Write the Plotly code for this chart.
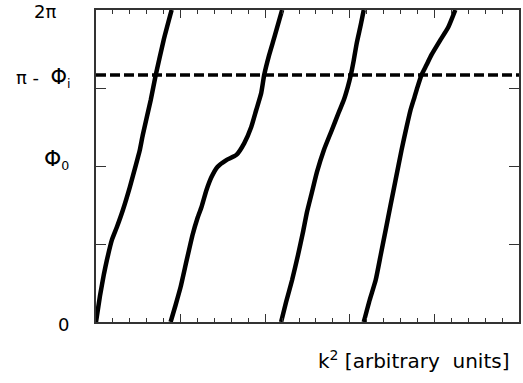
import plotly.graph_objects as go

# y values in units of pi (0 .. 2 -> 0 .. 2pi), x in arbitrary k^2 units
c1_x = [0.000, 0.047, 0.094, 0.129, 0.188, 0.247, 0.318, 0.400, 0.471, 0.518, 0.553, 0.647, 0.706, 0.800, 0.894]
c1_y = [0.000, 0.167, 0.308, 0.397, 0.526, 0.609, 0.718, 0.865, 1.006, 1.103, 1.199, 1.423, 1.583, 1.808, 2.000]

c2_x = [0.882, 0.941, 1.000, 1.059, 1.141, 1.200, 1.247, 1.306, 1.365, 1.435, 1.541, 1.659, 1.753, 1.835, 1.894, 1.953, 1.988, 2.047, 2.106, 2.200]
c2_y = [0.000, 0.109, 0.224, 0.365, 0.558, 0.667, 0.737, 0.846, 0.929, 0.994, 1.038, 1.071, 1.147, 1.250, 1.359, 1.468, 1.583, 1.712, 1.821, 2.000]

c3_x = [2.188, 2.247, 2.318, 2.388, 2.447, 2.494, 2.553, 2.612, 2.694, 2.788, 2.871, 2.929, 2.976, 3.012, 3.047, 3.082, 3.129, 3.165]
c3_y = [0.000, 0.128, 0.269, 0.429, 0.577, 0.705, 0.833, 0.962, 1.103, 1.231, 1.346, 1.423, 1.506, 1.583, 1.679, 1.788, 1.904, 2.000]

c4_x = [3.165, 3.235, 3.306, 3.365, 3.424, 3.482, 3.541, 3.612, 3.671, 3.718, 3.765, 3.800, 3.847, 3.906, 3.965, 4.071, 4.165, 4.247]
c4_y = [0.000, 0.141, 0.269, 0.429, 0.590, 0.750, 0.910, 1.103, 1.250, 1.359, 1.442, 1.506, 1.583, 1.647, 1.712, 1.808, 1.891, 2.000]

dash_x = [0.0, 5.0]
dash_level = 1.583  # pi - Phi_i

y_label_vals = [0.0, 1.0, dash_level, 2.0]
y_label_text = [
    "0",
    "<span style='font-size:22px'>Φ</span><sub>0</sub>",
    "π\u00a0-\u00a0\u00a0<span style='font-size:21px'>Φ</span><sub>i</sub>",
    "2π",
]
y_tick_vals = [0.5, 1.0, 1.5]
x_title = "k<sup>2</sup> [arbitrary\u00a0\u00a0units]"

FONT = "DejaVu Sans"

fig = go.Figure()
for xs, ys in [(c1_x, c1_y), (c2_x, c2_y), (c3_x, c3_y), (c4_x, c4_y)]:
    fig.add_trace(go.Scatter(x=xs, y=ys, mode="lines",
                             line=dict(color="black", width=4.5, shape="spline", smoothing=0.5),
                             showlegend=False, hoverinfo="skip"))

fig.add_trace(go.Scatter(x=dash_x, y=[dash_level, dash_level], mode="lines",
                         line=dict(color="black", width=3.5, dash="10px,4px"),
                         showlegend=False, hoverinfo="skip"))

fig.update_layout(
    width=523, height=383,
    margin=dict(l=96, r=2, t=10, b=61),
    paper_bgcolor="white", plot_bgcolor="white",
    font=dict(family=FONT, color="black"),
)

fig.update_xaxes(range=[0, 5], showgrid=False, zeroline=False,
                 showline=True, linecolor="#333", linewidth=1.5, mirror="ticks",
                 ticks="inside", tick0=0, dtick=1, ticklen=8, tickcolor="#333", tickwidth=1,
                 showticklabels=False,
                 minor=dict(ticks="inside", dtick=0.2, tick0=0, ticklen=4, tickcolor="#333", tickwidth=1, showgrid=False))
fig.update_yaxes(range=[0, 2], showgrid=False, zeroline=False,
                 showline=True, linecolor="#333", linewidth=1.5, mirror="ticks",
                 ticks="inside", tickvals=y_tick_vals, ticklen=10, tickcolor="#333", tickwidth=1,
                 showticklabels=False)

# y-axis labels placed individually
label_pos = [(-0.059, -2), (-0.059, 7), (-0.055, -3), (-0.09, -1)]
for val, txt, (xp, ys) in zip(y_label_vals, y_label_text, label_pos):
    fig.add_annotation(x=xp, xref="paper", y=val, yref="y", text=txt, showarrow=False,
                       xanchor="right", yanchor="middle", yshift=ys,
                       font=dict(family=FONT, size=18, color="black"))

fig.add_annotation(x=0.981, xref="paper", y=-0.122, yref="paper", text=x_title, showarrow=False,
                   xanchor="right", yanchor="middle",
                   font=dict(family=FONT, size=20, color="black"))

fig.write_html("out.html")
